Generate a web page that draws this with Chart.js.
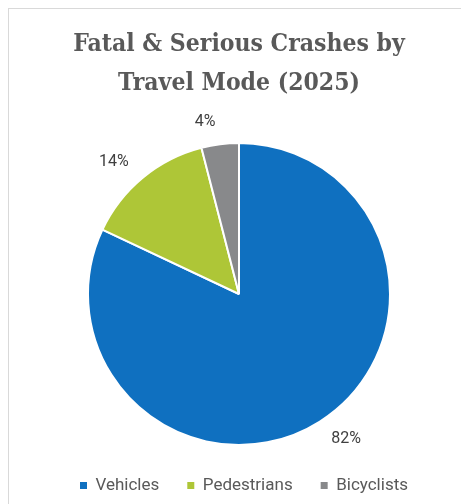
<!DOCTYPE html>
<html>
<head>
<meta charset="utf-8">
<script src="https://cdn.jsdelivr.net/npm/chart.js@4.4.1/dist/chart.umd.min.js"></script>
<style>
  html, body { margin: 0; padding: 0; background: #fff; }
  #frame {
    position: absolute; left: 8px; top: 8px; width: 470px; height: 510px;
    border-left: 1px solid #d9d9d9; border-top: 1px solid #d9d9d9;
  }
  #wrap { position: absolute; left: 0; top: 0; width: 461px; height: 504px; }
</style>
</head>
<body>
<div id="frame"></div>
<div id="wrap"><canvas id="modeChart" width="461" height="504"></canvas></div>
<script>
const titleLines = ['Fatal & Serious Crashes by', 'Travel Mode (2025)'];
const modes = ['Vehicles', 'Pedestrians', 'Bicyclists'];
const shares = [82, 14, 4];
const sliceColors = ['#0f70c0', '#aec637', '#88898b'];

// percent labels outside each slice (excel "best fit" sits a little ccw of the mid angle)
const outsideLabels = {
  id: 'outsideLabels',
  afterDatasetsDraw(chart) {
    const ctx = chart.ctx;
    const meta = chart.getDatasetMeta(0);
    ctx.save();
    ctx.font = '16px Roboto';
    ctx.fillStyle = '#404040';
    ctx.textAlign = 'center';
    ctx.textBaseline = 'middle';
    meta.data.forEach((arc, i) => {
      const p = arc.getProps(['x', 'y', 'startAngle', 'endAngle', 'outerRadius']);
      const mid = (p.startAngle + p.endAngle) / 2 - 4 * Math.PI / 180;
      const txt = shares[i] + '%';
      const w = ctx.measureText(txt).width;
      const cos = Math.cos(mid), sin = Math.sin(mid);
      const ext = w / 2 * Math.abs(cos) + 6 * Math.abs(sin);
      const d = p.outerRadius + 16 + ext;
      ctx.fillText(txt, p.x + cos * d, p.y + sin * d);
    });
    ctx.restore();
  }
};

// legend sits a few px right of the pie centre in the original
const nudgeLegend = {
  id: 'nudgeLegend',
  afterLayout(chart) {
    chart.legend.left += 5;
    chart.legend.right += 5;
  }
};

new Chart(document.getElementById('modeChart'), {
  type: 'pie',
  data: {
    labels: modes,
    datasets: [{
      data: shares,
      backgroundColor: sliceColors,
      borderColor: '#ffffff',
      borderWidth: 2,
      radius: 151
    }]
  },
  options: {
    responsive: false,
    animation: false,
    layout: { padding: { left: 17, right: 0, top: 10, bottom: 0 } },
    plugins: {
      title: {
        display: true,
        text: titleLines,
        color: '#595959',
        font: { family: '"DejaVu Serif Condensed", "DejaVu Serif"', size: 24.5, weight: 'bold', lineHeight: 39 / 24.5 },
        padding: { top: 15, bottom: 36 }
      },
      legend: {
        position: 'bottom',
        labels: {
          boxWidth: 7,
          boxHeight: 7,
          padding: 28,
          color: '#595959',
          font: { family: 'Roboto', size: 17 },
          generateLabels(chart) {
            const items = Chart.overrides.pie.plugins.legend.labels.generateLabels(chart);
            items.forEach(it => { it.lineWidth = 0; it.strokeStyle = 'transparent'; });
            return items;
          }
        }
      },
      tooltip: { enabled: false }
    }
  },
  plugins: [outsideLabels, nudgeLegend]
});
</script>
</body>
</html>
